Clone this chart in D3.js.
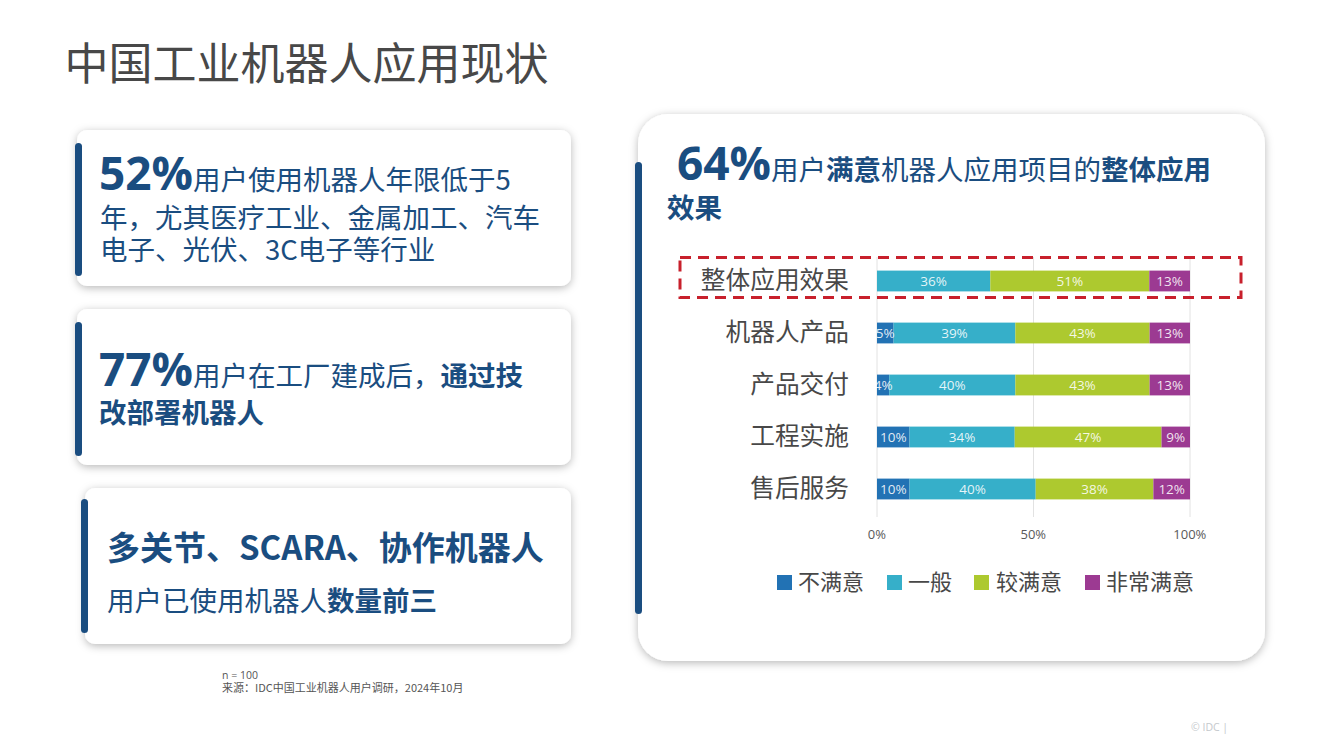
<!DOCTYPE html>
<html><head><meta charset="utf-8">
<script src="https://cdn.jsdelivr.net/npm/d3@7"></script>
<style>
html,body{margin:0;padding:0;background:#fff;overflow:hidden}
text{font-family:"Open Sans","Noto Sans CJK SC",sans-serif}
.cjk{font-family:"Noto Sans CJK SC",sans-serif}
</style></head><body><svg id="c" width="1321" height="743"></svg>
<script>
const categories=["整体应用效果","机器人产品","产品交付","工程实施","售后服务"];
const seriesNames=["不满意","一般","较满意","非常满意"];
const seriesColors=["#2272b4","#36afc9","#adc92f","#9c3a92"];
const dissatisfied=[0,5.3,3.9,10.4,10.4];
const neutral=[36.2,38.9,40.3,33.6,40.3];
const satisfied=[50.8,42.9,42.9,46.9,37.6];
const verySatisfied=[13,12.9,12.9,9.1,11.7];
const tickValues=[0,50,100];
const navy="#1a4d80";

const svg=d3.select("#c");
const defs=svg.append("defs");
const f=defs.append("filter").attr("id","sh").attr("x","-10%").attr("y","-10%").attr("width","120%").attr("height","125%");
f.append("feDropShadow").attr("dx",0).attr("dy",2).attr("stdDeviation",4).attr("flood-color","#000").attr("flood-opacity",0.28);

svg.append("text").attr("class","cjk").attr("x",64.5).attr("y",80).attr("font-size",44).attr("fill","#484848").text("中国工业机器人应用现状");

function card(x,y,w,h,r,bx,by,bh){
  svg.append("rect").attr("x",x).attr("y",y).attr("width",w).attr("height",h).attr("rx",r).attr("fill","#fff").attr("filter","url(#sh)");
  svg.append("rect").attr("x",bx).attr("y",by).attr("width",7).attr("height",bh).attr("rx",3.5).attr("fill",navy);
}
card(77,130,494,156,10,75,143,133);
card(77,309,494,156,10,75,322,134);
card(85,488,486,156,10,81,499,134);
card(638,114,627,547,30,635,162,452);

function line(x,y,parts,fs){
  const t=svg.append("text").attr("class","cjk").attr("x",x).attr("y",y).attr("fill",navy).attr("font-size",fs);
  parts.forEach(p=>{
    const s=t.append("tspan").text(p.t);
    if(p.b)s.attr("font-weight",700);
    if(p.s)s.attr("font-size",p.s).style("font-family",'"Open Sans",sans-serif');
  });
}
line(99,190,[{t:"52%",b:1,s:46},{t:"用户使用机器人年限低于5"}],27.5);
line(100,228,[{t:"年，尤其医疗工业、金属加工、汽车"}],27.5);
line(100,260,[{t:"电子、光伏、3C电子等行业"}],27.5);
line(99,386,[{t:"77%",b:1,s:46},{t:"用户在工厂建成后，"},{t:"通过技",b:1}],27.5);
line(99,423,[{t:"改部署机器人",b:1}],27.5);
line(107,560,[{t:"多关节、SCARA、协作机器人",b:1}],33);
line(107,611,[{t:"用户已使用机器人"},{t:"数量前三",b:1}],27.5);
line(677,180,[{t:"64%",b:1,s:46},{t:"用户"},{t:"满意",b:1},{t:"机器人应用项目的"},{t:"整体应用",b:1}],27.5);
line(667,218,[{t:"效果",b:1}],27.5);

svg.append("text").attr("x",222).attr("y",679).attr("font-size",10.5).attr("fill","#555").text("n = 100");
svg.append("text").attr("class","cjk").attr("x",222).attr("y",692).attr("font-size",11).attr("fill","#555").text("来源：IDC中国工业机器人用户调研，2024年10月");
svg.append("text").attr("x",1191).attr("y",731).attr("font-size",10.5).attr("fill","#c4c8cc").text("© IDC |");

const x=d3.scaleLinear().domain([0,100]).range([877,1190]);
const y=d3.scaleBand().domain(categories).range([255,515]).paddingInner(0.6).paddingOuter(0.3);
const yc=d=>y(d)+y.bandwidth()/2;

svg.append("g").selectAll("line").data(tickValues).join("line")
  .attr("x1",d=>x(d)).attr("x2",d=>x(d)).attr("y1",257).attr("y2",517)
  .attr("stroke","#e2e2e2").attr("stroke-width",1);

const rows=categories.map((c,i)=>({c,dissatisfied:dissatisfied[i],neutral:neutral[i],satisfied:satisfied[i],verySatisfied:verySatisfied[i]}));
const keys=["dissatisfied","neutral","satisfied","verySatisfied"];
const stacked=d3.stack().keys(keys)(rows);
const fmt=d3.format(".0f");
stacked.forEach((s,si)=>{
  const g=svg.append("g");
  g.selectAll("rect").data(s).join("rect")
    .attr("x",d=>x(d[0])).attr("y",d=>y(d.data.c))
    .attr("width",d=>x(d[1])-x(d[0])).attr("height",y.bandwidth()).attr("fill",seriesColors[si]);
});
stacked.forEach(s=>{
  svg.append("g").selectAll("text").data(s.filter(d=>d[1]>d[0])).join("text")
    .attr("x",d=>(x(d[0])+x(d[1]))/2).attr("y",d=>yc(d.data.c)+4.8)
    .attr("text-anchor","middle").attr("font-size",13.5).attr("fill","#fff").attr("fill-opacity",0.88)
    .text(d=>fmt(d[1]-d[0])+"%");
});

svg.append("g").selectAll("text").data(categories).join("text").attr("class","cjk")
  .attr("x",849).attr("y",d=>yc(d)+8).attr("text-anchor","end").attr("font-size",24.7).attr("fill","#484848").text(d=>d);

const ax=svg.append("g").attr("transform","translate(0,535)").call(d3.axisBottom(x).tickValues(tickValues).tickFormat(d=>d+"%").tickSize(0).tickPadding(0));
ax.select(".domain").remove();
ax.selectAll("text").attr("font-size",13).attr("fill","#595959").attr("dy","0.32em").attr("y",0).attr("dx",-0.7).style("font-family",'"Open Sans",sans-serif');

const legendX=[777,887,974,1085];
const lg=svg.append("g").selectAll("g").data(seriesNames).join("g").attr("transform",(d,i)=>`translate(${legendX[i]},575)`);
lg.append("rect").attr("width",15).attr("height",15).attr("fill",(d,i)=>seriesColors[i]);
lg.append("text").attr("class","cjk").attr("x",d=>d==="较满意"?22:21).attr("y",15).attr("font-size",22).attr("fill","#484848").text(d=>d);

svg.append("rect").attr("x",680).attr("y",257.5).attr("width",561).attr("height",40)
  .attr("fill","none").attr("stroke","#c8202c").attr("stroke-width",3).attr("stroke-dasharray","11 7");
</script></body></html>
